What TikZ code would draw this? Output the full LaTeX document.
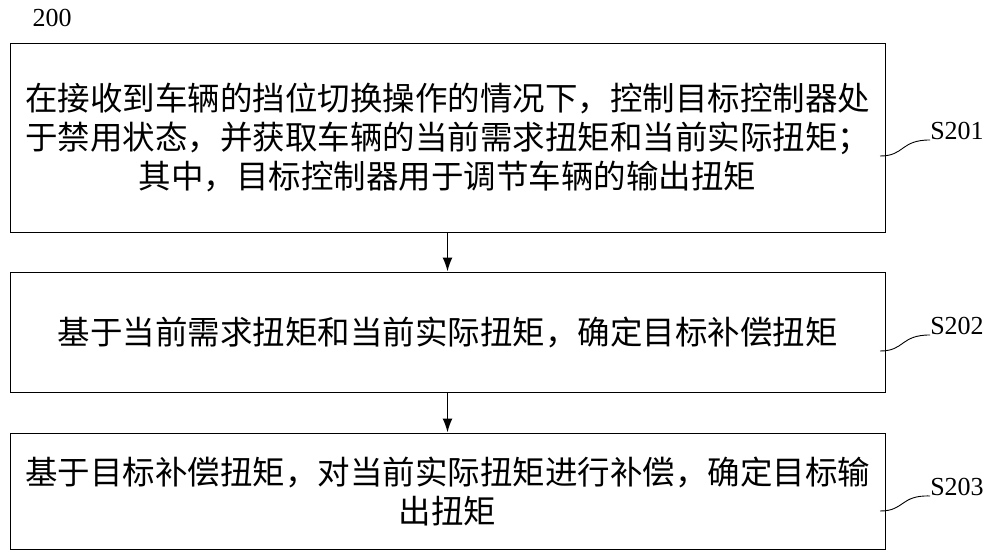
\documentclass[tikz,border=0pt]{standalone}
\usepackage{fontspec}
\setmainfont{Liberation Serif}
\newfontfamily\cjk{Noto Sans CJK SC}
\usetikzlibrary{positioning,arrows.meta}
\begin{document}
\begin{tikzpicture}[x=1pt,y=-1pt,>=latex,
  stepbox/.style={draw,line width=1pt,minimum width=875pt,align=center,inner sep=0pt,font=\cjk\fontsize{32.5}{39}\selectfont},
  steplabel/.style={font=\fontsize{26}{28}\selectfont,inner sep=0pt},
  flow/.style={-{Latex[length=14pt,width=10pt]},line width=1.6pt}]
\useasboundingbox (0,0) rectangle (1000,557);
%%
\node (title) at (52,18) [steplabel] {200};
\node (box_1) at (447.5,137.5) [stepbox,minimum height=189pt] {在接收到车辆的挡位切换操作的情况下，控制目标控制器处\\于禁用状态，并获取车辆的当前需求扭矩和当前实际扭矩；\\其中，目标控制器用于调节车辆的输出扭矩};
\node (box_2) at (447.5,332) [stepbox,minimum height=120pt] {基于当前需求扭矩和当前实际扭矩，确定目标补偿扭矩};
\node (box_3) at (447.5,491) [stepbox,minimum height=116pt] {基于目标补偿扭矩，对当前实际扭矩进行补偿，确定目标输\\出扭矩};
\node (lab_1) at (957,131) [steplabel] {S201};
\node (lab_2) at (957,326) [steplabel] {S202};
\node (lab_3) at (957,487) [steplabel] {S203};
\coordinate (tail_1) at (880,156);
\coordinate (tail_2) at (880,351);
\coordinate (tail_3) at (880,511);
\draw [flow] (box_1) -- (box_2);
\draw [flow] (box_2) -- (box_3);
\draw [line width=0.9pt] (tail_1) .. controls (905,156) and (900,140) .. (lab_1.south west);
\draw [line width=0.9pt] (tail_2) .. controls (905,351) and (900,335) .. (lab_2.south west);
\draw [line width=0.9pt] (tail_3) .. controls (905,511) and (900,495) .. (lab_3.south west);
%
\end{tikzpicture}
\end{document}
